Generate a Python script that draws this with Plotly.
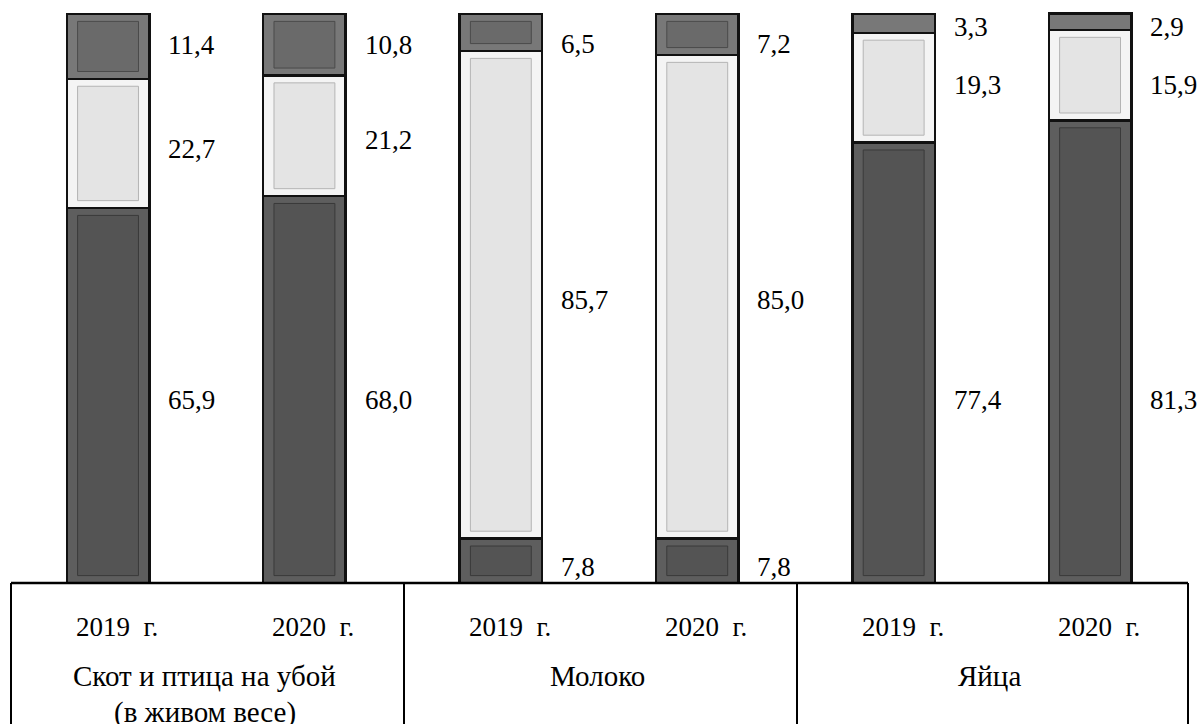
import plotly.graph_objects as go

# ---- data ----
groups = ["Скот и птица на убой", "Молоко", "Яйца"]
group_sub = ["(в живом весе)", "", ""]
years = ["2019  г.", "2020  г."]
bar_keys = ["s2019", "s2020", "m2019", "m2020", "e2019", "e2020"]
bottom_vals = [65.9, 68.0, 7.8, 7.8, 77.4, 81.3]
middle_vals = [22.7, 21.2, 85.7, 85.0, 19.3, 15.9]
top_vals = [11.4, 10.8, 6.5, 7.2, 3.3, 2.9]

# ---- layout / style ----
W, H = 1203, 724
FONT = "Liberation Serif"
FS = 27
FS_GROUP = 29
bar_w = 0.42
x_range = [-0.55, 5.575]
y_range = [-24.78, 102.46]
seg_styles = [
    dict(outer="#5e5e5e", inner="#545454", line="#3a3a3a"),   # bottom
    dict(outer="#f4f4f4", inner="#e4e4e4", line="#b4b4b4"),   # middle
    dict(outer="#787878", inner="#6a6a6a", line="#4a4a4a"),   # top
]
# fine label offsets (pixels, + = up) per series: bottom, middle, top
label_yshift = [
    [-4, -10, -6, -6, -37, -48],
    [-6, -4, -5, -3, 3, -10],
    [1, 0, -12, -10, -4, -5],
]

series = [bottom_vals, middle_vals, top_vals]

fig = go.Figure()
for s, vals in enumerate(series):
    fig.add_trace(go.Bar(
        x=bar_keys, y=vals, width=bar_w,
        marker=dict(color=seg_styles[s]["outer"], line=dict(color="#111111", width=2.5)),
        hoverinfo="skip", showlegend=False,
    ))

shapes = []
annotations = []
x_in = 0.055
y_in = 1.3
for i, key in enumerate(bar_keys):
    base = 0.0
    for s, vals in enumerate(series):
        v = vals[i]
        y0, y1 = base, base + v
        if v > 2 * y_in + 1:
            shapes.append(dict(
                type="rect", xref="x", yref="y",
                x0=i - bar_w / 2 + x_in, x1=i + bar_w / 2 - x_in,
                y0=y0 + y_in, y1=y1 - y_in,
                fillcolor=seg_styles[s]["inner"],
                line=dict(color=seg_styles[s]["line"], width=1),
                layer="above",
            ))
        annotations.append(dict(
            x=i + bar_w / 2, y=(y0 + y1) / 2, xref="x", yref="y",
            text=f"{v:.1f}".replace(".", ","), showarrow=False,
            xanchor="left", yanchor="middle", xshift=17,
            yshift=label_yshift[s][i],
            font=dict(family=FONT, size=FS, color="#000000"),
        ))
        base = y1

# table lines (pixel -> paper)
def pxp(px):
    return px / W

def pyp(py):
    return 1 - py / H

table_x = [11, 404, 797, 1188]
shapes.append(dict(type="line", xref="paper", yref="paper",
                   x0=pxp(table_x[0]), x1=pxp(table_x[-1]), y0=pyp(583), y1=pyp(583),
                   line=dict(color="#000000", width=2.5)))
for tx in table_x:
    shapes.append(dict(type="line", xref="paper", yref="paper",
                       x0=pxp(tx), x1=pxp(tx), y0=pyp(583), y1=pyp(730),
                       line=dict(color="#000000", width=2)))

# year labels
for i, key in enumerate(bar_keys):
    annotations.append(dict(
        x=i, y=pyp(627), xref="x", yref="paper", xshift=9,
        text=years[i % 2], showarrow=False, xanchor="center", yanchor="middle",
        font=dict(family=FONT, size=FS, color="#000000"),
    ))

# group labels
for g, name in enumerate(groups):
    cx = pxp((table_x[g] + table_x[g + 1]) / 2 - 3)
    annotations.append(dict(
        x=cx, y=pyp(676), xref="paper", yref="paper",
        text=name, showarrow=False, xanchor="center", yanchor="middle",
        font=dict(family=FONT, size=FS_GROUP, color="#000000"),
    ))
    if group_sub[g]:
        annotations.append(dict(
            x=cx, y=pyp(712), xref="paper", yref="paper",
            text=group_sub[g], showarrow=False, xanchor="center", yanchor="middle",
            font=dict(family=FONT, size=FS_GROUP, color="#000000"),
        ))

fig.update_layout(
    width=W, height=H,
    margin=dict(l=0, r=0, t=0, b=0),
    barmode="stack",
    paper_bgcolor="#ffffff", plot_bgcolor="#ffffff",
    xaxis=dict(type="category", range=x_range, visible=False, fixedrange=True),
    yaxis=dict(range=y_range, visible=False, fixedrange=True),
    shapes=shapes, annotations=annotations,
)

fig.write_html(
    "out.html",
    config=dict(displayModeBar=False),
    post_script="document.body.style.margin='0';document.body.style.overflow='hidden';",
)
